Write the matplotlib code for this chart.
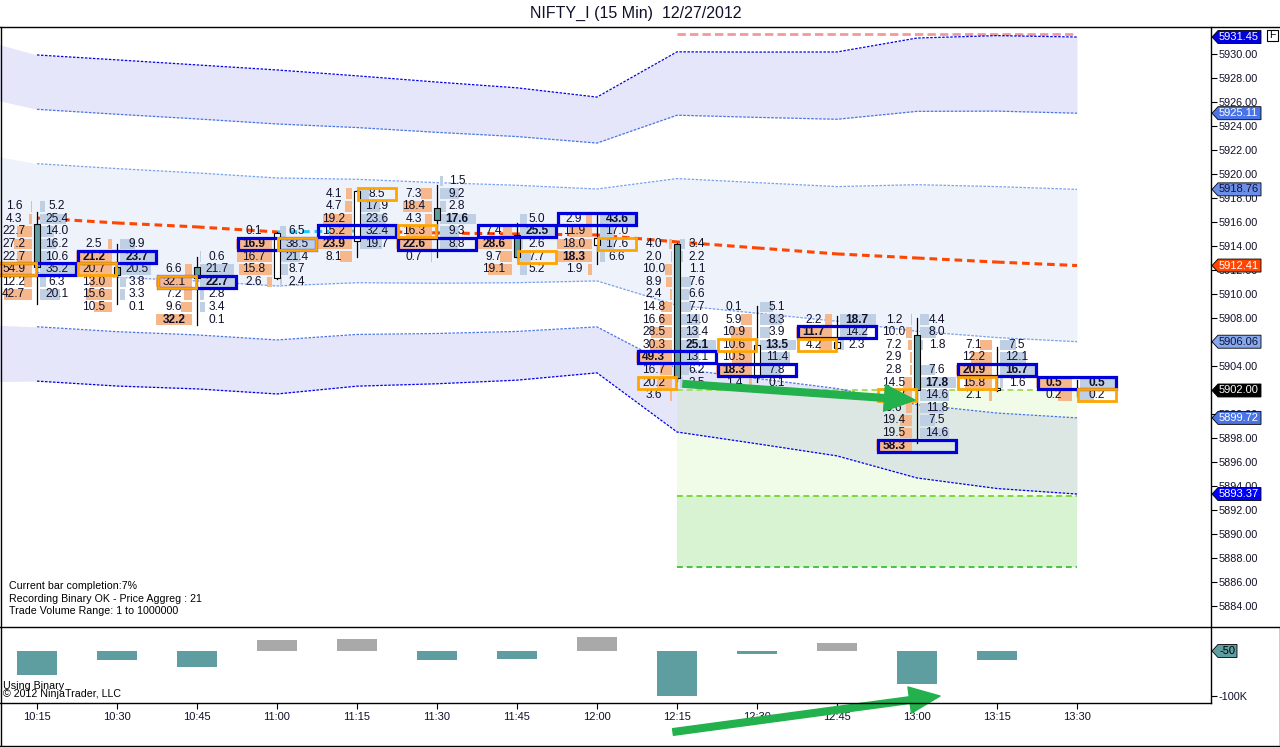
#!/usr/bin/env python3

import matplotlib
matplotlib.use("Agg")
import numpy as np
import matplotlib.pyplot as plt
import matplotlib.transforms as mtransforms
from matplotlib.patches import Rectangle, Polygon
from matplotlib.lines import Line2D

plt.rcParams["font.family"] = ["Liberation Sans", "DejaVu Sans"]
plt.rcParams["font.size"] = 9

W_PX, H_PX = 1280, 747

# 15 min bars
TIMES = ["10:15", "10:30", "10:45", "11:00", "11:15", "11:30", "11:45",
         "12:00", "12:15", "12:30", "12:45", "13:00", "13:15", "13:30"]

OPEN = [5915.9, 5912.3, 5912.3, 5911.4, 5914.45, 5917.2, 5914.95,
        5914.1, 5914.2, 5903.15, 5905.5, 5906.6, 5902.0, 5902.0]
HIGH = [5916.9, 5914.2, 5913.15, 5915.2, 5918.7, 5919.1, 5915.95,
        5916.6, 5914.3, 5909.0, 5908.2, 5908.0, 5905.65, 5902.9]
LOW = [5909.2, 5909.2, 5907.45, 5911.3, 5913.1, 5913.15, 5913.05,
       5912.5, 5902.8, 5902.7, 5905.45, 5897.6, 5901.95, 5901.5]
CLOSE = [5912.3, 5911.6, 5911.4, 5915.1, 5918.6, 5916.2, 5913.15,
         5914.7, 5903.05, 5905.8, 5906.05, 5902.05, 5902.2, 5902.0]

# footprint rows (Price Aggreg 21 x 0.05 = 1.05 pts per row)
ROW0 = 5919.45
ROW_STEP = 1.05
TOP_ROW = [2, 5, 6, 4, 1, 0, 3, 3, 5, 10, 11, 11, 13, 16]

BID = [
    [1.6, 4.3, 22.7, 27.2, 22.7, 54.9, 12.2, 42.7],
    [2.5, 21.2, 20.7, 13.0, 15.6, 10.5],
    [None, 6.6, 32.1, 7.2, 9.6, 32.2],
    [0.1, 16.9, 16.7, 15.8, 2.6],
    [4.1, 4.7, 19.2, 15.2, 23.9, 8.1],
    [None, 7.3, 18.4, 4.3, 16.3, 22.6, 0.7],
    [None, 7.4, 28.6, 9.7, 19.1],
    [2.9, 11.9, 18.0, 18.3, 1.9],
    [4.0, 2.0, 10.0, 8.9, 2.4, 14.8, 16.6, 28.5, 30.3, 49.3, 16.7, 20.2, 3.6],
    [0.1, 5.9, 10.9, 10.6, 10.5, 18.3, 1.4],
    [2.2, 11.7, 4.2],
    [1.2, 10.0, 7.2, 2.9, 2.8, 14.5, 13.2, 9.6, 19.4, 19.5, 58.3],
    [7.1, 12.2, 20.9, 15.8, 2.1],
    [0.5, 0.2],
]
ASK = [
    [5.2, 25.4, 14.0, 16.2, 10.6, 35.2, 6.3, 20.1],
    [9.9, 23.7, 20.5, 3.8, 3.3, 0.1],
    [0.6, 21.7, 22.7, 2.8, 3.4, 0.1],
    [6.5, 38.5, 21.4, 8.7, 2.4],
    [8.5, 17.9, 23.6, 32.4, 19.7, None],
    [1.5, 9.2, 2.8, 17.6, 9.3, 8.8, None],
    [5.0, 25.5, 2.6, 7.7, 5.2],
    [43.6, 17.0, 17.6, 6.6, None],
    [3.4, 2.2, 1.1, 7.6, 6.6, 7.7, 14.0, 13.4, 25.1, 13.1, 6.2, 2.5, None],
    [5.1, 8.3, 3.9, 13.5, 11.4, 7.8, 0.1],
    [18.7, 14.2, 2.3],
    [4.4, 8.0, 1.8, None, 7.6, 17.8, 14.6, 11.8, 7.5, 14.6, None],
    [7.5, 12.1, 16.7, 1.6, None],
    [0.5, 0.2],
]

# highlighted rows (blue) and cells (orange), row offset inside each bar
BLUE_ROW = [5, 1, 2, 1, 3, 5, 1, 0, 9, 5, 1, 10, 2, 0]
ORANGE_CELL = [(5, "bid"), (2, "bid"), (2, "bid"), (1, "ask"), (0, "ask"),
               (4, "bid"), (3, "ask"), (2, "ask"), (11, "bid"), (3, "bid"),
               (2, "bid"), (6, "bid"), (3, "bid"), (1, "ask")]
BOLD = {(1, 1, "bid"), (1, 1, "ask"), (2, 5, "bid"), (2, 2, "ask"),
        (3, 1, "bid"), (4, 4, "bid"), (5, 3, "ask"), (5, 5, "bid"),
        (6, 2, "bid"), (6, 1, "ask"), (7, 3, "bid"), (7, 0, "ask"),
        (8, 8, "ask"), (8, 9, "bid"), (9, 3, "ask"), (9, 5, "bid"),
        (10, 0, "ask"), (10, 1, "bid"), (11, 5, "ask"), (11, 10, "bid"),
        (12, 2, "bid"), (12, 2, "ask"), (13, 0, "bid"), (13, 0, "ask")}

# envelope: centre average and band unit (bands at +-1, 2, 3 units), bar -1 included
BAND_X = list(range(-1, 14))
MA = [5917.25, 5916.37, 5915.96, 5915.63, 5915.21, 5915.29, 5915.13, 5915.04,
      5914.96, 5914.38, 5913.88, 5913.38, 5913.04, 5912.70, 5912.412]
BAND_W = [4.85, 4.53, 4.53, 4.50, 4.50, 4.31, 4.19, 4.06,
          3.83, 5.28, 5.44, 5.61, 6.11, 6.29, 6.3473]

# target zone drawn from 12:15 to 13:30
ZONE_BARS = (8, 13)
ZONE_LEVELS = [5902.0, 5893.2, 5887.3]
ZONE_RED = 5931.7

# lower panel delta, in thousands
DELTA_K = [-53.3, -20.0, -35.6, 24.4, 26.7, -20.0, -17.8,
           31.1, -100.0, -6.7, 17.8, -73.3, -20.0, -0.05]

TEAL = "#5f9ea0"
BID_C = "#f6b88a"
ASK_C = "#bfcfe4"
GREEN = "#22b14c"
TXT = "#10102a"


def row_price(r):
    return ROW0 - ROW_STEP * r


def px_line(fig, x0, y0, x1, y1):
    fig.add_artist(Line2D([x0 / W_PX, x1 / W_PX], [1 - y0 / H_PX, 1 - y1 / H_PX],
                          transform=fig.transFigure, color="black", lw=1.0))


def price_tag(ax, y, text, fc, tc, width=50):
    trans = mtransforms.blended_transform_factory(ax.transAxes, ax.transData)
    anchor = mtransforms.Affine2D() + mtransforms.ScaledTranslation(1.0, y, trans)
    verts = [(1, 0), (7, 6.5), (width, 6.5), (width, -6.5), (7, -6.5)]
    ax.add_patch(Polygon(verts, closed=True, fc=fc, ec="black" if fc != "black" else fc,
                         lw=0.6, transform=anchor, clip_on=False, zorder=10))
    ax.text(1.0, y, text, transform=mtransforms.offset_copy(trans, fig=ax.figure, x=8, y=0, units="dots"),
            ha="left", va="center", fontsize=8, color=tc, zorder=11, clip_on=False)


def draw_bands(ax):
    ma = np.array(MA)
    w = np.array(BAND_W)
    ax.fill_between(BAND_X, ma + 2 * w, ma + 3 * w, color="#e6e6fa", lw=0, zorder=0.5)
    ax.fill_between(BAND_X, ma - 3 * w, ma - 2 * w, color="#e6e6fa", lw=0, zorder=0.5)
    ax.fill_between(BAND_X, ma - w, ma + w, color="#eef2fb", lw=0, zorder=0.5)

    # target zone
    z0, z1 = ZONE_BARS
    ax.fill_between([z0, z1], ZONE_LEVELS[1], ZONE_LEVELS[0], color=(180 / 255, 240 / 255, 140 / 255),
                    alpha=0.2, lw=0, zorder=1)
    ax.fill_between([z0, z1], ZONE_LEVELS[2], ZONE_LEVELS[1], color=(55 / 255, 195 / 255, 30 / 255),
                    alpha=0.2, lw=0, zorder=1)
    for lvl, c in zip(ZONE_LEVELS, ["#a6e05a", "#7ad83a", "#44c444"]):
        ax.plot([z0, z1], [lvl, lvl], color=c, lw=1.4, ls=(0, (3, 2)), zorder=2)
    ax.plot([z0, z1], [ZONE_RED, ZONE_RED], color="#f08080", lw=2.0, alpha=0.8, ls=(0, (3, 1.5)), zorder=2)

    xs = BAND_X[1:]
    for k, c in [(3, "#0000ee"), (2, "#4a74e6"), (1, "#7aa0ec")]:
        ax.plot(xs, (ma + k * w)[1:], color=c, lw=0.9, ls=(0, (2, 1.2)), zorder=2)
        ax.plot(xs, (ma - k * w)[1:], color=c, lw=0.9, ls=(0, (2, 1.2)), zorder=2)

    # centre average, coloured by slope
    for i in range(1, len(MA) - 1):
        c = "#29c5f6" if MA[i + 1] > MA[i] else "#ff4500"
        ax.plot([BAND_X[i], BAND_X[i + 1]], [MA[i], MA[i + 1]], color=c, lw=2.2,
                ls=(0, (2.5, 1.6)), zorder=2.5, solid_capstyle="butt")


def draw_footprint(ax):
    h = ROW_STEP * 0.84
    maxw = 0.45
    for i in range(len(TIMES)):
        bmax = max(v for v in BID[i] if v is not None)
        amax = max(v for v in ASK[i] if v is not None)
        for k, (b, a) in enumerate(zip(BID[i], ASK[i])):
            y = row_price(TOP_ROW[i] + k)
            if b is not None:
                w = maxw * b / bmax
                ax.add_patch(Rectangle((i - 0.06 - w, y - h / 2), w, h, fc=BID_C, lw=0, zorder=3))
                ax.text(i - 0.29, y, f"{b:.1f}", ha="center", va="center", fontsize=8.6, color=TXT,
                        fontweight="bold" if (i, k, "bid") in BOLD else "normal", zorder=4)
            if a is not None:
                w = maxw * a / amax
                ax.add_patch(Rectangle((i + 0.035, y - h / 2), w, h, fc=ASK_C, lw=0, zorder=3))
                ax.text(i + 0.25, y, f"{a:.1f}", ha="center", va="center", fontsize=8.6, color=TXT,
                        fontweight="bold" if (i, k, "ask") in BOLD else "normal", zorder=4)

        yb = row_price(TOP_ROW[i] + BLUE_ROW[i])
        ax.add_patch(Rectangle((i - 0.49, yb - 0.5), 0.98, 1.0, fill=False, ec="#0000dd", lw=2.3, zorder=5))
        k, side = ORANGE_CELL[i]
        yo = row_price(TOP_ROW[i] + k)
        x0 = i - 0.49 if side == "bid" else i + 0.0125
        ax.add_patch(Rectangle((x0, yo - 0.5), 0.475, 1.0, fill=False, ec="#ffa500", lw=2.0, zorder=5.5))


def draw_candles(ax):
    for i in range(len(TIMES)):
        ax.plot([i, i], [LOW[i], HIGH[i]], color="black", lw=0.9, zorder=4.5)
        lo = min(OPEN[i], CLOSE[i])
        body = max(abs(CLOSE[i] - OPEN[i]), 0.15)
        fc = TEAL if CLOSE[i] < OPEN[i] else "white"
        ax.add_patch(Rectangle((i - 0.035, lo), 0.07, body, fc=fc, ec="black", lw=0.8, zorder=4.6))


def main():
    fig = plt.figure(figsize=(W_PX / 100, H_PX / 100), dpi=100)
    ax = fig.add_axes([0, 1 - 627 / H_PX, 1211 / W_PX, 600 / H_PX])
    ax2 = fig.add_axes([0, 1 - 703 / H_PX, 1211 / W_PX, 76 / H_PX])

    xlim = (-37 / 80, (1211 - 37) / 80)
    for a in (ax, ax2):
        a.set_xlim(*xlim)
        for s in a.spines.values():
            s.set_visible(False)
        a.yaxis.tick_right()
        a.tick_params(axis="y", direction="out", length=4.3, width=0.8, pad=1, labelsize=7.8, colors="black")
        a.tick_params(axis="y", labelcolor=TXT)

    # main price panel
    ax.set_ylim(5882.29, 5932.29)
    ticks = np.arange(5884, 5931, 2)
    ax.set_yticks(ticks)
    ax.set_yticklabels([f"{t:.2f}" for t in ticks])
    ax.tick_params(axis="x", bottom=False, labelbottom=False)

    draw_bands(ax)
    draw_footprint(ax)
    draw_candles(ax)

    ax.annotate("", xy=(10.975, 5901.2), xytext=(8.075, 5902.55),
                arrowprops=dict(arrowstyle="simple,head_length=1.1,head_width=0.95,tail_width=0.24",
                                fc=GREEN, ec=GREEN, mutation_scale=20, shrinkA=0, shrinkB=0), zorder=7)

    ma, w = MA[-1], BAND_W[-1]
    for val, fc, tc in [(ma + 3 * w, "#0000dd", "white"), (ma + 2 * w, "#4a74e6", "white"),
                        (ma + w, "#6b8fe8", "#111133"), (ma, "#ff4500", "white"),
                        (ma - w, "#86a8ec", "#111133"), (CLOSE[-1], "black", "white"),
                        (ma - 2 * w, "#4a74e6", "white"), (ma - 3 * w, "#0000ff", "white")]:
        price_tag(ax, val, f"{val:.2f}", fc, tc)

    info = ax.get_yaxis_transform()
    ax.text(9 / 1211, 5885.7, "Current bar completion:7%", transform=info, fontsize=7.7, va="center")
    ax.text(9 / 1211, 5884.65, "Recording Binary OK - Price Aggreg : 21", transform=info, fontsize=7.7,
            va="center")
    ax.text(9 / 1211, 5883.6, "Trade Volume Range: 1 to 1000000", transform=info, fontsize=7.7, va="center")

    # lower delta panel
    ax2.set_ylim(-115.6, 53.3)
    ax2.bar(range(len(DELTA_K)), DELTA_K, width=0.5,
            color=[TEAL if d < 0 else "#a9a9a9" for d in DELTA_K], zorder=2)
    ax2.set_yticks([-100])
    ax2.set_yticklabels(["-100K"])
    ax2.set_xticks(range(len(TIMES)))
    ax2.set_xticklabels(TIMES)
    ax2.tick_params(axis="x", direction="out", length=4.3, width=0.8, pad=2, labelsize=8, labelcolor=TXT)
    price_tag(ax2, 0, f"{DELTA_K[-1] * 1000:.0f}", TEAL, "black", width=26)
    info2 = ax2.get_yaxis_transform()
    ax2.text(3 / 1211, -77, "Using Binary", transform=info2, fontsize=7.7, va="center")
    ax2.text(3 / 1211, -96, "\u00a9 2012 NinjaTrader, LLC", transform=info2, fontsize=7.7, va="center")

    ax2.annotate("", xy=(940, H_PX - 696), xytext=(673, H_PX - 732),
                 xycoords="figure pixels", textcoords="figure pixels", annotation_clip=False,
                 arrowprops=dict(arrowstyle="simple,head_length=1.1,head_width=0.95,tail_width=0.24",
                                 fc=GREEN, ec=GREEN, mutation_scale=20, shrinkA=0, shrinkB=0), zorder=7)

    # frame lines
    px_line(fig, 0, 27, 1280, 27)
    px_line(fig, 0, 627, 1280, 627)
    px_line(fig, 0, 703, 1211, 703)
    px_line(fig, 0, 745.5, 1280, 745.5)
    px_line(fig, 0.5, 27, 0.5, 746)
    px_line(fig, 1211, 27, 1211, 703)
    px_line(fig, 1279.5, 627, 1279.5, 746)

    # F box
    fig.add_artist(Rectangle((1267 / W_PX, 1 - 41 / H_PX), 11 / W_PX, 11 / H_PX, transform=fig.transFigure,
                             fill=False, ec="black", lw=0.8))
    fig.text(1272.5 / W_PX, 1 - 35.5 / H_PX, "F", ha="center", va="center", fontsize=7.5)

    fig.text(636 / W_PX, 1 - 13 / H_PX, "NIFTY_I (15 Min)  12/27/2012", ha="center", va="center",
             fontsize=11.5, color=TXT)

    fig.savefig("out.png", dpi=100)


if __name__ == "__main__":
    main()
